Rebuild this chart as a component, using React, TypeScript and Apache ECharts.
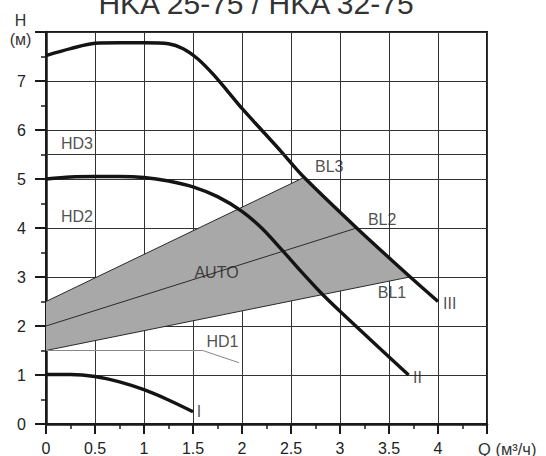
import React, { useEffect, useRef } from "react";
import * as echarts from "echarts";

// ---- data ----
const xTickLabels = ["0", "0.5", "1", "1.5", "2", "2.5", "3", "3.5", "4"];
const yTickLabels = ["0", "1", "2", "3", "4", "5", "6", "7"];

// pump curves [Q, H]
const curveIII: number[][] = [
  [0, 7.52], [0.25, 7.66], [0.5, 7.77], [0.75, 7.78], [1.0, 7.78], [1.25, 7.76],
  [1.4, 7.66], [1.55, 7.45], [1.7, 7.15], [1.85, 6.8], [2.0, 6.44], [2.2, 6.0],
  [2.4, 5.56], [2.62, 5.06], [3.17, 4.0], [3.7, 3.03], [4.0, 2.5],
];
const curveII: number[][] = [
  [0, 5.0], [0.25, 5.04], [0.5, 5.05], [0.75, 5.05], [1.0, 5.03], [1.25, 4.96],
  [1.5, 4.84], [1.75, 4.64], [2.0, 4.34], [2.2, 4.0], [2.4, 3.57], [2.6, 3.12],
  [2.8, 2.69], [3.0, 2.3], [3.3, 1.74], [3.7, 1.0],
];
const curveI: number[][] = [
  [0, 1.01], [0.25, 1.01], [0.5, 0.97], [0.75, 0.86], [1.0, 0.7], [1.25, 0.49], [1.5, 0.25],
];

// AUTO region and proportional lines
const autoArea: number[][] = [[0, 2.5], [2.62, 5.02], [3.71, 3.0], [0, 1.5]];
const lineBL3: number[][] = [[0, 2.5], [2.62, 5.02]];
const lineBL2: number[][] = [[0, 2.0], [3.17, 4.0]];
const lineBL1: number[][] = [[0, 1.5], [3.71, 3.0]];
const lineHD1: number[][] = [[0, 1.5], [1.6, 1.5], [1.97, 1.25]];

// extra horizontal grid line
const extraGridY = [5.5];

// annotations [Q, H, text]
const annotations: [number, number, string][] = [
  [0.316, 5.72, "HD3"],
  [0.316, 4.23, "HD2"],
  [1.74, 3.09, "AUTO"],
  [2.89, 5.25, "BL3"],
  [3.43, 4.18, "BL2"],
  [3.53, 2.69, "BL1"],
  [4.12, 2.46, "III"],
  [3.79, 0.95, "II"],
  [1.56, 0.245, "I"],
  [1.8, 1.68, "HD1"],
];

const titleText = "HKA 25-75 / HKA 32-75";
const FONT = "'Liberation Sans', Arial, sans-serif";

export default function App() {
  const ref = useRef<HTMLDivElement>(null);
  useEffect(() => {
    document.body.style.margin = "0";
    if (!ref.current) return;
    const chart = echarts.init(ref.current, undefined, { renderer: "svg" });
    const curveStyle = { color: "#141414", width: 3.4 };
    const thin = { color: "#2a2a2a", width: 1 };
    const curve = (data: number[][]) => ({
      type: "line", data, showSymbol: false, smooth: 0.3,
      lineStyle: curveStyle, z: 4, silent: true,
    });
    chart.setOption({
      animation: false,
      backgroundColor: "#ffffff",
      textStyle: { fontFamily: FONT },
      grid: {
        left: 46, top: 32, right: 59, bottom: 32,
        show: true, borderColor: "#1a1a1a", borderWidth: 2, backgroundColor: "transparent",
      },
      xAxis: {
        type: "value", min: 0, max: 4.5, interval: 0.5,
        axisLine: { show: true, onZero: false, lineStyle: { color: "#1a1a1a", width: 2.5 } },
        axisTick: { show: true, length: 10, lineStyle: { color: "#1a1a1a", width: 2 } },
        minorTick: { show: true, splitNumber: 2, length: 5, lineStyle: { color: "#1a1a1a", width: 1.5 } },
        splitLine: { show: true, lineStyle: { color: "#333", width: 1 } },
        axisLabel: {
          color: "#222", fontSize: 16, fontFamily: FONT, margin: 16,
          formatter: (_v: number, i: number) => xTickLabels[i] ?? "",
        },
      },
      yAxis: {
        type: "value", min: 0, max: 8, interval: 1,
        axisLine: { show: true, onZero: false, lineStyle: { color: "#1a1a1a", width: 2.5 } },
        axisTick: { show: true, length: 11, lineStyle: { color: "#1a1a1a", width: 2 } },
        minorTick: { show: true, splitNumber: 2, length: 5, lineStyle: { color: "#1a1a1a", width: 1.5 } },
        splitLine: { show: true, lineStyle: { color: "#333", width: 1 } },
        axisLabel: {
          color: "#222", fontSize: 16, fontFamily: FONT, margin: 20,
          formatter: (_v: number, i: number) => yTickLabels[i] ?? "",
        },
      },
      series: [
        {
          type: "custom",
          silent: true,
          z: 1,
          data: [0],
          renderItem: (_p: any, api: any) => {
            const pts = autoArea.map((d) => api.coord(d));
            return {
              type: "polygon",
              shape: { points: pts },
              style: { fill: "#a8a8a8", stroke: "none" },
            };
          },
        },
        {
          type: "line", data: [], silent: true, z: 1,
          markLine: {
            silent: true, symbol: "none", label: { show: false },
            lineStyle: { color: "#333", width: 1, type: "solid" },
            data: extraGridY.map((y) => ({ yAxis: y })),
          },
        },
        { type: "line", data: lineBL3, showSymbol: false, lineStyle: thin, z: 3, silent: true },
        { type: "line", data: lineBL2, showSymbol: false, lineStyle: thin, z: 3, silent: true },
        { type: "line", data: lineBL1, showSymbol: false, lineStyle: thin, z: 3, silent: true },
        { type: "line", data: lineHD1, showSymbol: false, lineStyle: { color: "#888", width: 1 }, z: 3, silent: true },
        curve(curveIII),
        curve(curveII),
        curve(curveI),
        {
          type: "scatter", silent: true, z: 5,
          symbolSize: 1, itemStyle: { color: "rgba(0,0,0,0)" },
          data: annotations.map((a) => ({ value: [a[0], a[1]], name: a[2] })),
          label: {
            show: true, position: "inside", formatter: (p: any) => p.name,
            color: "#222", fontSize: 16, fontFamily: FONT, textBorderWidth: 0,
          },
        },
      ],
      graphic: [
        {
          type: "text", x: 256, y: 3,
          style: {
            text: titleText, fill: "#333", fontSize: 30, fontFamily: FONT,
            align: "center", verticalAlign: "middle",
          },
        },
        {
          type: "text", x: 20.5, y: 20.5,
          style: { text: "H", fill: "#333", fontSize: 16, fontFamily: FONT, align: "center", verticalAlign: "middle" },
        },
        {
          type: "text", x: 20.5, y: 39.5,
          style: { text: "(м)", fill: "#333", fontSize: 16, fontFamily: FONT, align: "center", verticalAlign: "middle" },
        },
        {
          type: "text", x: 478, y: 448.5,
          style: { text: "Q (м³/ч)", fill: "#333", fontSize: 16.5, fontFamily: FONT, align: "left", verticalAlign: "middle" },
        },
      ],
    });
    return () => chart.dispose();
  }, []);
  return (
    <div
      ref={ref}
      style={{ position: "fixed", left: 0, top: 0, width: 546, height: 456 }}
    />
  );
}
